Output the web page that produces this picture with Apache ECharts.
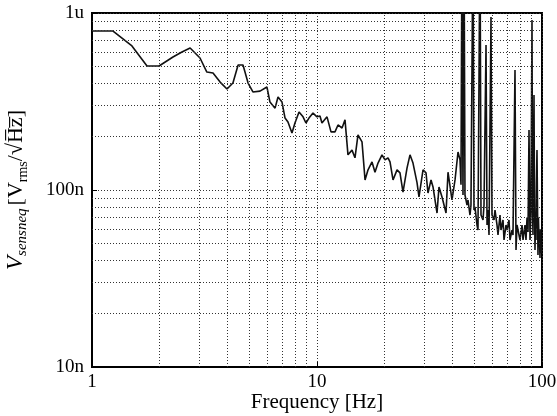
<!DOCTYPE html>
<html>
<head>
<meta charset="UTF-8">
<title>Vsensneq</title>
<script src="https://cdn.jsdelivr.net/npm/echarts@6/dist/echarts.min.js"></script>
<style>
  html, body { margin: 0; padding: 0; background: #fff; }
  #main { width: 557px; height: 416px; }
</style>
</head>
<body>
<div id="main"></div>
<script>
// frequency [Hz]
var freqHz = [
  1.00, 1.24, 1.505, 1.756, 1.986, 2.29, 2.51, 2.73, 3.02, 3.24, 3.45, 3.71, 3.98,
  4.23, 4.46, 4.69, 4.94, 5.19, 5.58, 5.99, 6.18, 6.51, 6.71, 6.99, 7.21, 7.43, 7.74,
  7.98, 8.32, 8.67, 8.93, 9.21, 9.60, 10.0, 10.31, 10.52, 11.08, 11.54, 12.02, 12.40,
  12.92, 13.32, 13.73, 14.31, 14.75, 15.21, 15.85, 16.35, 16.86, 17.56, 18.10, 18.67,
  19.45, 20.05, 20.68, 21.11, 21.77, 22.68, 23.38, 24.11, 25.12, 25.90, 26.71, 27.83,
  28.40, 29.59, 30.51, 31.14, 32.12, 32.78, 34.15, 34.85, 35.94, 37.45, 38.22, 39.81,
  41.06, 42.34, 43.21,
  43.65, 44.10, 44.55, 45.01, 45.47, 46.42, 46.90, 47.86, 48.35, 49.35, 49.86, 50.37,
  51.42, 51.94, 53.02, 53.57, 54.68, 55.24, 56.39, 56.97, 57.54, 58.14, 59.34, 59.95,
  61.19, 61.82, 63.10, 63.75, 65.07, 65.74, 67.10, 67.79, 69.18, 69.90, 71.34, 72.07,
  73.56, 74.32, 75.86, 76.64, 77.43, 79.03, 79.84, 81.50, 82.33, 84.04, 84.90, 85.80,
  86.66, 87.55, 88.45, 89.30, 90.28, 90.70, 91.20, 92.14, 92.60, 93.08, 93.50, 94.04,
  94.50, 95.00, 95.97, 96.40, 96.96, 97.40, 97.97, 98.40, 98.98, 99.50
];
// noise density [nV/sqrt(Hz)]
var vNoise = [
  791, 791, 651, 502, 502, 564, 602, 634, 557, 464, 458, 407, 372,
  402, 508, 508, 402, 358, 362, 382, 314, 290, 335, 314, 255, 242, 210,
  239, 276, 259, 239, 255, 272, 259, 262, 239, 259, 213, 213, 233,
  224, 249, 158, 168, 152, 205, 187, 114, 130, 144, 126, 142,
  158, 148, 152, 144, 114, 130, 125, 97.4, 133, 158, 142, 110,
  91.3, 130, 125, 96.2, 114, 104, 74.1, 104, 91.3, 74.1, 126, 87.8,
  114, 164, 148,
  107, 3000, 93.7, 3000, 93.7, 82.3, 87.8, 72.2, 82.3, 3000, 77.1, 80.2,
  63.4, 59.4, 3000, 72.2, 67.7, 82.3, 659, 63.4, 77.1, 55.7, 949, 72.2,
  67.7, 77.1, 63.4, 55.7, 72.2, 59.4, 67.7, 52.2, 63.4, 59.4, 67.7, 52.2,
  59.4, 55.7, 476, 45.8, 63.4, 55.7, 52.2, 63.4, 52.2, 63.4, 52.2, 70.0,
  57.9, 218, 52.2, 75.0, 913, 80.0, 55.7, 344, 87.8, 45.8, 65.0, 52.2,
  110, 168, 42.9, 70.0, 52.2, 55.0, 41.3, 60.0, 47.0, 44.0
];
var xMinor = [2, 3, 4, 5, 6, 7, 8, 9, 20, 30, 40, 50, 60, 70, 80, 90];
var yMinor = [20, 30, 40, 50, 60, 70, 80, 90, 200, 300, 400, 500, 600, 700, 800, 900];
var yTickText = { 10: '10n', 100: '100n', 1000: '1u' };

var FONT = 'Liberation Serif';
var dotted = { color: '#333', width: 1, type: [1, 2] };

var gridLines = [];
xMinor.forEach(function (v) { gridLines.push({ xAxis: v }); });
yMinor.forEach(function (v) { gridLines.push({ yAxis: v }); });

var chart = echarts.init(document.getElementById('main'));
chart.setOption({
  animation: false,
  grid: {
    left: 92, top: 13, right: 15, bottom: 49,
    outerBoundsMode: 'none', containLabel: false,
    show: true, borderColor: '#000', borderWidth: 2, backgroundColor: 'transparent'
  },
  xAxis: {
    type: 'log', logBase: 10, min: 1, max: 100,
    name: 'Frequency [Hz]', nameLocation: 'middle', nameGap: 25, nameMoveOverlap: false,
    nameTextStyle: { fontFamily: FONT, fontSize: 21, color: '#000' },
    axisLine: { lineStyle: { color: '#000', width: 2 } },
    axisTick: { inside: true, length: 5, lineStyle: { color: '#000' } },
    axisLabel: { fontFamily: FONT, fontSize: 19, color: '#000', margin: 6 },
    splitLine: { show: true, lineStyle: dotted }
  },
  yAxis: {
    type: 'log', logBase: 10, min: 10, max: 1000,
    name: '{vi|V}{sub|sensneq} {n|[V}{rm|rms}{n|/√H\u0305z\u0305]}',
    nameLocation: 'middle', nameGap: 62, nameRotate: 90,
    nameTextStyle: {
      fontFamily: FONT, color: '#000',
      rich: {
        vi: { fontFamily: FONT, fontStyle: 'italic', fontSize: 23, lineHeight: 28, verticalAlign: 'middle' },
        sub: { fontFamily: FONT, fontStyle: 'italic', fontSize: 15, lineHeight: 12, verticalAlign: 'bottom' },
        n: { fontFamily: FONT, fontSize: 22, lineHeight: 28, verticalAlign: 'middle' },
        rm: { fontFamily: FONT, fontSize: 14, lineHeight: 12, verticalAlign: 'bottom' }
      }
    },
    axisLine: { lineStyle: { color: '#000', width: 2 } },
    axisTick: { inside: true, length: 5, lineStyle: { color: '#000' } },
    axisLabel: {
      fontFamily: FONT, fontSize: 19, color: '#000', margin: 8,
      formatter: function (v) { return yTickText[Math.round(v)] || ''; }
    },
    splitLine: { show: true, lineStyle: dotted }
  },
  series: [{
    type: 'line',
    data: freqHz.map(function (f, i) { return [f, vNoise[i]]; }),
    symbol: 'none',
    clip: true,
    lineStyle: { color: '#111', width: 1.6 },
    markLine: {
      silent: true, symbol: ['none', 'none'], animation: false,
      label: { show: false },
      lineStyle: dotted,
      data: gridLines
    }
  }]
});
</script>
</body>
</html>
